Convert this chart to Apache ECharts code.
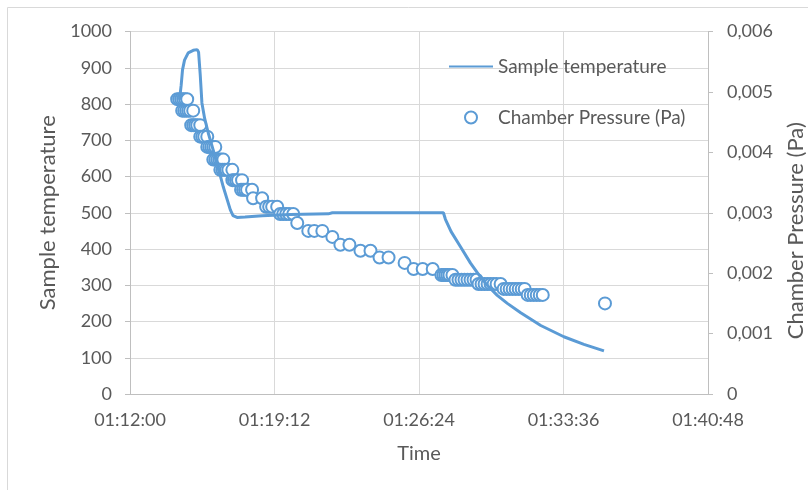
<!DOCTYPE html>
<html>
<head>
<meta charset="utf-8">
<script src="https://cdn.jsdelivr.net/npm/echarts@6/dist/echarts.min.js"></script>
<style>
	html, body { margin: 0; padding: 0; background: #fff; }
	#chart { width: 808px; height: 490px; }
</style>
</head>
<body>
<div id="chart"></div>
<script>
// x axis ticks (time of day)
var xTickLabels = ['01:12:00', '01:19:12', '01:26:24', '01:33:36', '01:40:48'];

// Sample temperature (line)
var tempTimes = ['01:14:28', '01:14:33', '01:14:37', '01:14:43', '01:14:54', '01:15:09', '01:15:21', '01:15:25',
	'01:15:30', '01:15:35', '01:15:43', '01:15:54', '01:16:20', '01:16:39', '01:17:00', '01:17:08', '01:17:20',
	'01:17:44', '01:18:35', '01:19:59', '01:21:53', '01:22:05', '01:27:37', '01:27:43', '01:28:00', '01:28:28',
	'01:28:58', '01:29:22', '01:29:48', '01:30:18', '01:30:48', '01:31:28', '01:32:28', '01:33:37', '01:34:37',
	'01:35:37'];
var tempValues = [812, 852, 894, 921, 941, 948, 950, 943,
	880, 803, 761, 720, 637, 571, 508, 492, 487,
	488, 492, 495, 497, 500, 500, 482, 448, 406,
	361, 330, 300, 272, 250, 224, 189, 158, 137,
	119];

// Chamber pressure (Pa) (markers)
var pressTimes = [
	'01:14:21', '01:14:27', '01:14:33', '01:14:39', '01:14:45', '01:14:51',
	'01:14:36', '01:14:42', '01:14:48', '01:14:54', '01:15:00', '01:15:09',
	'01:15:03', '01:15:09', '01:15:15', '01:15:21', '01:15:30',
	'01:15:30', '01:15:36', '01:15:42', '01:15:51',
	'01:15:51', '01:15:57', '01:16:03', '01:16:09', '01:16:15',
	'01:16:09', '01:16:15', '01:16:21', '01:16:27', '01:16:33', '01:16:39',
	'01:16:30', '01:16:36', '01:16:42', '01:16:48', '01:16:54', '01:17:06',
	'01:17:06', '01:17:11', '01:17:17', '01:17:23', '01:17:35',
	'01:17:32', '01:17:38', '01:17:44', '01:17:50', '01:18:05',
	'01:18:08', '01:18:35',
	'01:18:47', '01:18:56', '01:19:05', '01:19:20',
	'01:19:29', '01:19:38', '01:19:47', '01:19:56', '01:20:08',
	'01:20:20',
	'01:20:53', '01:21:11', '01:21:35',
	'01:22:05',
	'01:22:29', '01:22:56',
	'01:23:29', '01:23:59',
	'01:24:26', '01:24:53',
	'01:25:41',
	'01:26:08', '01:26:35', '01:27:05',
	'01:27:31', '01:27:37', '01:27:43', '01:27:49', '01:27:55', '01:28:04',
	'01:28:13', '01:28:22', '01:28:31', '01:28:40', '01:28:49', '01:28:58', '01:29:07', '01:29:16',
	'01:29:22', '01:29:31', '01:29:40', '01:29:49', '01:29:58', '01:30:07', '01:30:16', '01:30:28',
	'01:30:37', '01:30:46', '01:30:55', '01:31:04', '01:31:13', '01:31:22', '01:31:31', '01:31:40',
	'01:31:49', '01:31:58', '01:32:07', '01:32:16', '01:32:25', '01:32:34',
	'01:35:40'];
var pressValues = [
	0.00488, 0.00488, 0.00488, 0.00488, 0.00488, 0.00488,
	0.00469, 0.00469, 0.00469, 0.00469, 0.00469, 0.00469,
	0.00445, 0.00445, 0.00445, 0.00445, 0.00445,
	0.00426, 0.00426, 0.00426, 0.00426,
	0.00409, 0.00409, 0.00409, 0.00409, 0.00409,
	0.00388, 0.00388, 0.00388, 0.00388, 0.00388, 0.00388,
	0.00371, 0.00371, 0.00371, 0.00371, 0.00371, 0.00371,
	0.00354, 0.00354, 0.00354, 0.00354, 0.00354,
	0.00338, 0.00338, 0.00338, 0.00338, 0.00338,
	0.00324, 0.00324,
	0.00310, 0.00310, 0.00310, 0.00310,
	0.00298, 0.00298, 0.00298, 0.00298, 0.00298,
	0.00283,
	0.00270, 0.00270, 0.00270,
	0.00260,
	0.00247, 0.00247,
	0.00237, 0.00237,
	0.00226, 0.00226,
	0.00217,
	0.00207, 0.00207, 0.00207,
	0.00197, 0.00197, 0.00197, 0.00197, 0.00197, 0.00197,
	0.00189, 0.00189, 0.00189, 0.00189, 0.00189, 0.00189, 0.00189, 0.00189,
	0.00182, 0.00182, 0.00182, 0.00182, 0.00182, 0.00182, 0.00182, 0.00182,
	0.00174, 0.00174, 0.00174, 0.00174, 0.00174, 0.00174, 0.00174, 0.00174,
	0.00164, 0.00164, 0.00164, 0.00164, 0.00164, 0.00164,
	0.00150];

function toSec(s) {
	var p = s.split(':');
	return (+p[0]) * 3600 + (+p[1]) * 60 + (+p[2]);
}
function pad(n) {
	return (n < 10 ? '0' : '') + n;
}
function fmtTime(v) {
	v = Math.round(v);
	return pad(Math.floor(v / 3600)) + ':' + pad(Math.floor(v % 3600 / 60)) + ':' + pad(v % 60);
}

var blue = '#5B9BD5';
var txt = '#595959';
var font = 'Lato';

var tempData = tempTimes.map(function (t, i) { return [toSec(t), tempValues[i]]; });
var pressData = pressTimes.map(function (t, i) { return [toSec(t), pressValues[i]]; });

var xMin = toSec(xTickLabels[0]);
var xMax = toSec(xTickLabels[xTickLabels.length - 1]);

var myChart = echarts.init(document.getElementById('chart'));
var option = {
	animation: false,
	textStyle: { fontFamily: font },
	graphic: [{
		type: 'rect',
		shape: { x: 7.5, y: 7.5, width: 830, height: 520 },
		style: { fill: 'none', stroke: '#d9d9d9', lineWidth: 1 },
		silent: true
	}],
	grid: { left: 130, right: 100, top: 31.5, bottom: 96, outerBoundsMode: 'none', containLabel: false },
	legend: {
		orient: 'vertical',
		left: 448,
		top: 57,
		padding: 0,
		itemWidth: 44,
		itemHeight: 12,
		itemGap: 32,
		textStyle: { fontFamily: font, fontSize: 19, color: txt },
		data: [
			{ name: 'Sample temperature', itemStyle: { opacity: 0 } },
			{ name: 'Chamber Pressure (Pa)' }
		]
	},
	xAxis: {
		type: 'value',
		min: xMin,
		max: xMax,
		interval: (xMax - xMin) / (xTickLabels.length - 1),
		name: 'Time',
		nameLocation: 'middle',
		nameGap: 50,
		nameTextStyle: { fontFamily: font, fontSize: 20, color: txt },
		axisLine: { lineStyle: { color: '#bfbfbf', width: 1 } },
		axisTick: { show: false },
		splitLine: { show: true, lineStyle: { color: '#d9d9d9', width: 1 } },
		axisLabel: {
			margin: 17,
			fontFamily: font,
			fontSize: 18,
			color: txt,
			formatter: function (v) { return fmtTime(v); }
		}
	},
	yAxis: [{
		type: 'value',
		min: 0,
		max: 1000,
		interval: 100,
		name: 'Sample temperature',
		nameLocation: 'middle',
		nameGap: 69,
		nameTextStyle: { fontFamily: font, fontSize: 22, color: txt },
		axisLine: { show: true, lineStyle: { color: '#bfbfbf', width: 1 } },
		axisTick: { show: true, length: 5, lineStyle: { color: '#bfbfbf' } },
		splitLine: { lineStyle: { color: '#d9d9d9', width: 1 } },
		axisLabel: {
			margin: 18,
			fontFamily: font,
			fontSize: 18,
			color: txt,
			formatter: function (v) { return String(v); }
		}
	}, {
		type: 'value',
		min: 0,
		max: 0.006,
		interval: 0.001,
		position: 'right',
		name: 'Chamber Pressure (Pa)',
		nameLocation: 'middle',
		nameGap: 77,
		nameTextStyle: { fontFamily: font, fontSize: 22, color: txt, padding: [0, 36, 0, 0] },
		axisLine: { show: true, lineStyle: { color: '#bfbfbf', width: 1 } },
		axisTick: { show: true, length: 5, lineStyle: { color: '#bfbfbf' } },
		splitLine: { show: false },
		axisLabel: {
			margin: 19,
			fontFamily: font,
			fontSize: 18,
			color: txt,
			formatter: function (v) {
				return v === 0 ? '0' : v.toFixed(3).replace('.', ',');
			}
		}
	}],
	series: [{
		name: 'Sample temperature',
		type: 'line',
		yAxisIndex: 0,
		data: tempData,
		symbol: 'none',
		lineStyle: { color: blue, width: 3 },
		itemStyle: { color: blue }
	}, {
		name: 'Chamber Pressure (Pa)',
		type: 'scatter',
		yAxisIndex: 1,
		data: pressData,
		symbol: 'circle',
		symbolSize: 12,
		itemStyle: { color: '#ffffff', borderColor: blue, borderWidth: 2, opacity: 1 }
	}]
};
myChart.setOption(option);
</script>
</body>
</html>
